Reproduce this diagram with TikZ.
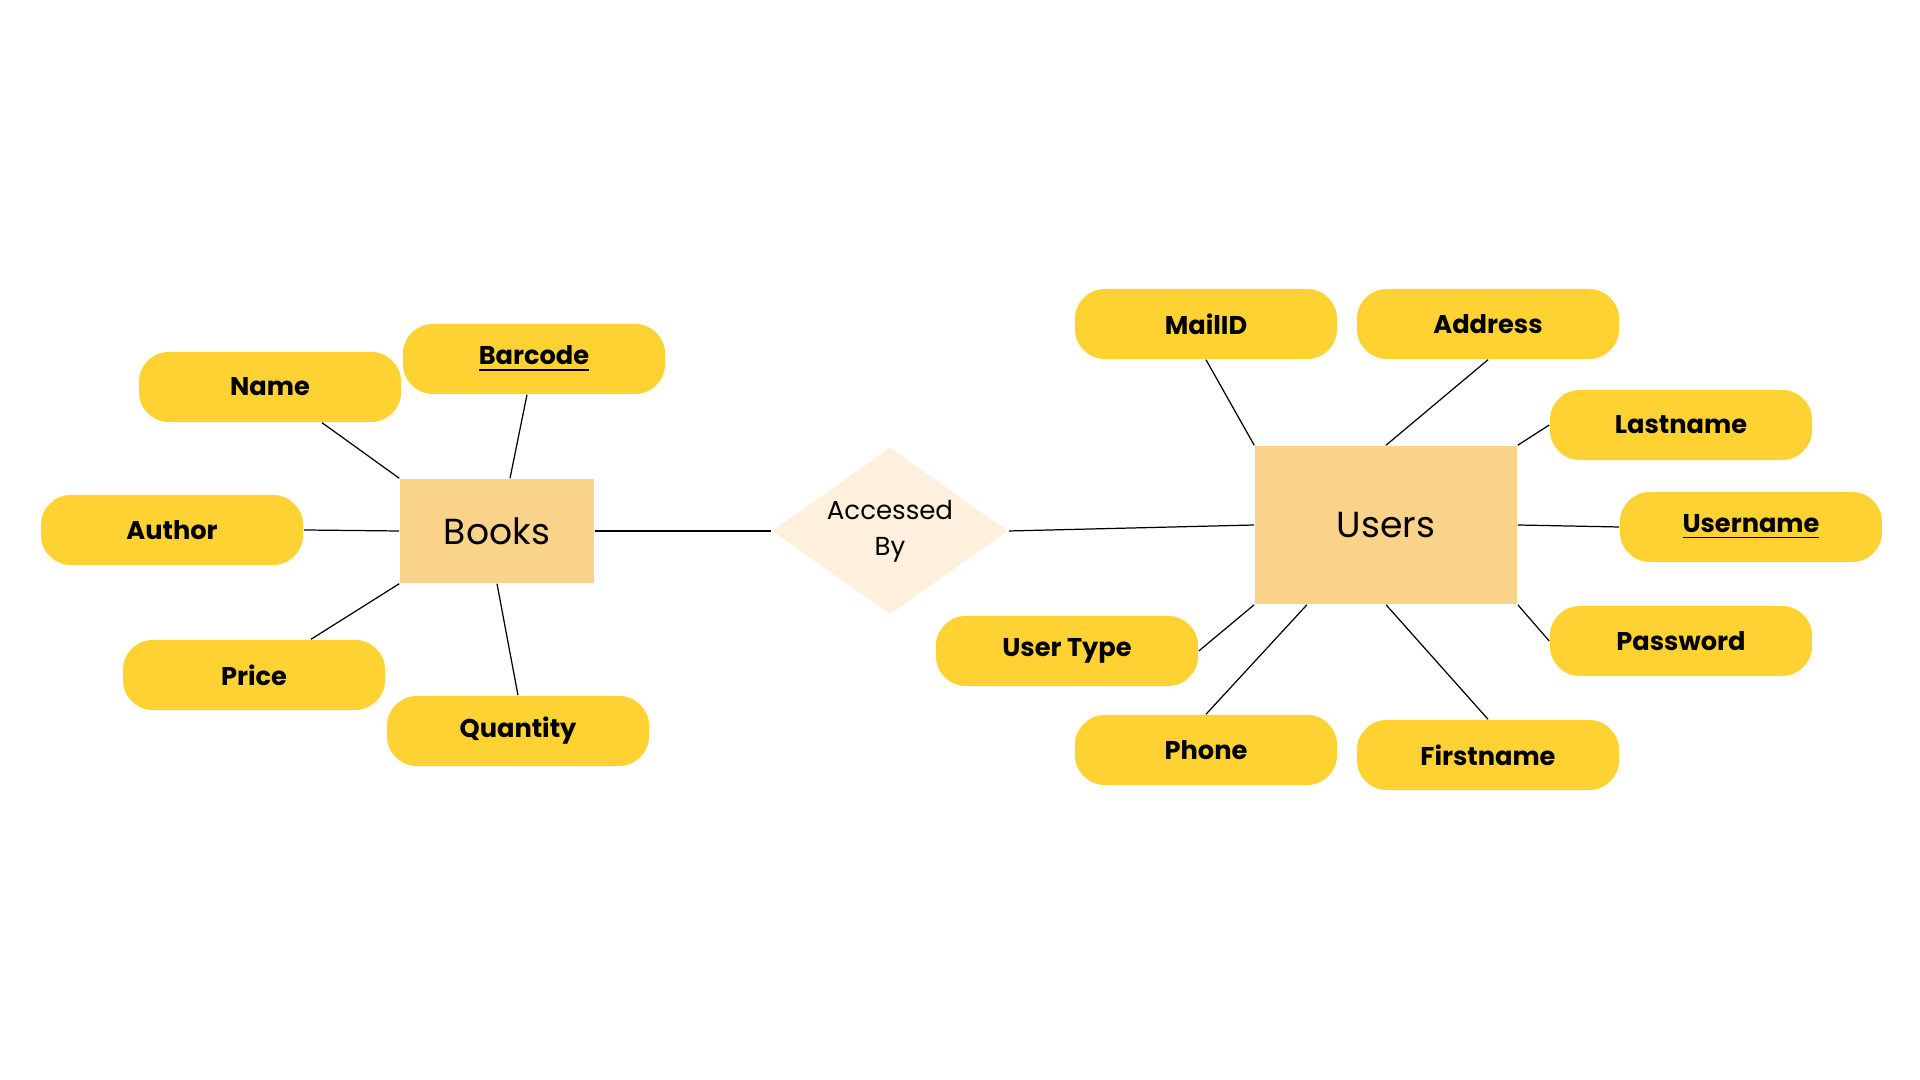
\documentclass[tikz,border=0pt]{standalone}
\usepackage{fontspec}
\setmainfont{Poppins}
\usetikzlibrary{positioning,calc,shapes.geometric}
\definecolor{attryellow}{RGB}{253,210,50}
\definecolor{entitytan}{RGB}{249,211,138}
\definecolor{relcream}{RGB}{254,240,220}
\tikzset{
	attr/.style={rectangle, rounded corners=0.3cm, fill=attryellow, minimum width=2.62cm, minimum height=0.7cm, inner sep=0pt, font=\bfseries\fontsize{7.3}{9}\selectfont},
	entity/.style={rectangle, fill=entitytan, inner sep=0pt, font=\fontsize{10.3}{12}\selectfont},
	rel/.style={diamond, fill=relcream, aspect=1.41, minimum width=2.36cm, minimum height=1.67cm, inner sep=0pt, align=center, font=\fontsize{7.4}{10.2}\selectfont},
	link/.style={line width=0.35pt, black}
}

\begin{document}
\begin{tikzpicture}[x=0.01cm, y=-0.01cm]
	\useasboundingbox (0,0) rectangle (1920,1080);

	% entities and relationship
	\node[entity, minimum width=1.94cm, minimum height=1.04cm] (books) at (497,531) {Books};
	\node[entity, minimum width=2.62cm, minimum height=1.58cm] (users) at (1386,525) {Users};
	\node[rel] (access) at (890,531) {Accessed\\By};

	% attributes of books
	\node[attr] (name) at (270,387) {Name};
	\node[attr] (barcode) at (534,359) {\underline{Barcode}};
	\node[attr] (author) at (172,530) {Author};
	\node[attr] (price) at (254,675) {Price};
	\node[attr] (quantity) at (518,731) {Quantity};

	% attributes of users
	\node[attr] (mailid) at (1206,324) {MailID};
	\node[attr] (address) at (1488,324) {Address};
	\node[attr] (lastname) at (1681,425) {Lastname};
	\node[attr] (username) at (1751,527) {\underline{Username}};
	\node[attr] (password) at (1681,641) {Password};
	\node[attr] (usertype) at (1067,651) {User Type};
	\node[attr] (phone) at (1206,750) {Phone};
	\node[attr] (firstname) at (1488,755) {Firstname};

	\draw[link] ([xshift=0.52cm]name.south) -- (books.north west);
	\draw[link] ([xshift=-0.07cm]barcode.south) -- ([xshift=0.13cm]books.north);
	\draw[link] (author.east) -- (books.west);
	\draw[link] ([xshift=0.57cm]price.north) -- (books.south west);
	\draw[link] (quantity.north) -- (books.south);

	\draw[link] (books.east) -- (access.west);
	\draw[link] (access.east) -- (users.west);

	\draw[link] (mailid.south) -- (users.north west);
	\draw[link] (address.south) -- (users.north);
	\draw[link] (lastname.west) -- (users.north east);
	\draw[link] (users.east) -- (username.west);
	\draw[link] (users.south east) -- (password.west);
	\draw[link] (usertype.east) -- (users.south west);
	\draw[link] (phone.north) -- ([xshift=-0.79cm]users.south);
	\draw[link] (firstname.north) -- (users.south);
\end{tikzpicture}
\end{document}
